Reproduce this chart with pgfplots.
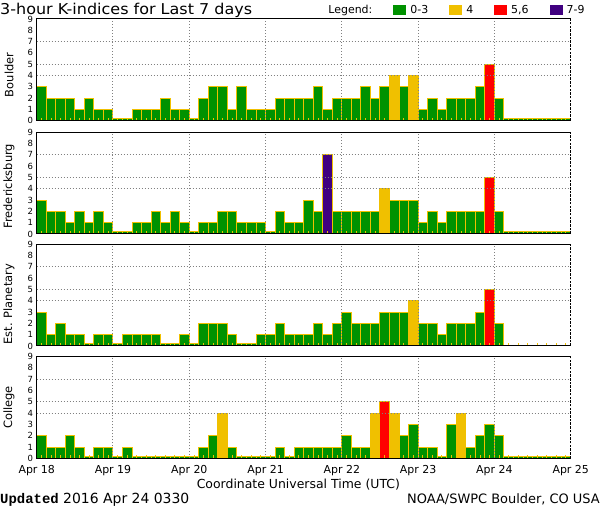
\documentclass[border=0pt]{standalone}
\usepackage{pgfplots}
\pgfplotsset{compat=1.18}
\usepackage{pgfplotstable}
\usepackage{fontspec}
\setmainfont{DejaVu Sans}
\newfontfamily\titlefont[FakeStretch=1.07]{DejaVu Sans}
\newfontfamily\stampfont{Liberation Mono}

\definecolor{kgreen}{RGB}{0,146,0}
\definecolor{korange}{RGB}{240,192,0}
\definecolor{kred}{RGB}{255,0,0}
\definecolor{kpurple}{RGB}{64,0,128}
\definecolor{kgrid}{RGB}{128,128,128}

% 3-hour K values, 8 per day, Apr 18 .. Apr 24
\pgfplotstableread[row sep=\\]{
k\\
3\\2\\2\\2\\1\\2\\1\\1\\
0\\0\\1\\1\\1\\2\\1\\1\\
0\\2\\3\\3\\1\\3\\1\\1\\
1\\2\\2\\2\\2\\3\\1\\2\\
2\\2\\3\\2\\3\\4\\3\\4\\
1\\2\\1\\2\\2\\2\\3\\5\\
2\\0\\0\\0\\0\\0\\0\\0\\
}\boulder
\pgfplotstableread[row sep=\\]{
k\\
3\\2\\2\\1\\2\\1\\2\\1\\
0\\0\\1\\1\\2\\1\\2\\1\\
0\\1\\1\\2\\2\\1\\1\\1\\
0\\2\\1\\1\\3\\2\\7\\2\\
2\\2\\2\\2\\4\\3\\3\\3\\
1\\2\\1\\2\\2\\2\\2\\5\\
2\\0\\0\\0\\0\\0\\0\\0\\
}\fredericksburg
\pgfplotstableread[row sep=\\]{
k\\
3\\1\\2\\1\\1\\0\\1\\1\\
0\\1\\1\\1\\1\\0\\0\\1\\
0\\2\\2\\2\\1\\0\\0\\1\\
1\\2\\1\\1\\1\\2\\1\\2\\
3\\2\\2\\2\\3\\3\\3\\4\\
2\\2\\1\\2\\2\\2\\3\\5\\
2\\
}\planetary
\pgfplotstableread[row sep=\\]{
k\\
2\\1\\1\\2\\1\\0\\1\\1\\
0\\1\\0\\0\\0\\0\\0\\0\\
0\\1\\2\\4\\1\\0\\0\\0\\
0\\1\\0\\1\\1\\1\\1\\1\\
2\\1\\1\\4\\5\\4\\2\\3\\
1\\1\\0\\3\\4\\1\\2\\3\\
2\\0\\0\\0\\0\\0\\0\\0\\
}\college

\pgfplotsset{
  kbar/.style={ybar, bar width=1, bar shift=0pt, draw=korange, line width=1bp, forget plot},
  kpanel/.style={
    scale only axis, width=534bp, height=101.7bp,
    xmin=-0.5, xmax=55.5, ymin=0, ymax=9,
    axis on top,
    axis line style={line width=1bp},
    xtick={-0.5,7.5,...,55.5}, xticklabels={},
    minor xtick={0,...,55},
    ytick={0,...,9},
    extra y ticks={4,5,7}, extra y tick labels={},
    extra y tick style={grid=major},
    xmajorgrids,
    major grid style={kgrid, line width=1bp, dash pattern=on 1bp off 2bp},
    major tick length=0pt,
    minor tick length=3bp,
    minor tick style={korange, line width=1bp},
    tick pos=left, tick align=inside,
    /pgf/number format/assume math mode=true,
    yticklabel style={font=\fontsize{8.5}{8.5}\selectfont, inner sep=0pt, xshift=-3.5bp},
    ylabel style={font=\fontsize{11.5}{11.5}\selectfont, anchor=center},
  },
}

\newcommand\kbars[1]{%
  \addplot[kbar, fill=kgreen, restrict y to domain=0:3.5]
    table[x index=0, y index=0, x expr=\coordindex, y expr={max(\thisrow{k},0.18)}] {#1};
  \addplot[kbar, fill=korange, restrict y to domain=3.5:4.5]
    table[x index=0, y index=0, x expr=\coordindex] {#1};
  \addplot[kbar, fill=kred, restrict y to domain=4.5:6.5]
    table[x index=0, y index=0, x expr=\coordindex] {#1};
  \addplot[kbar, fill=kpurple, restrict y to domain=6.5:9.5]
    table[x index=0, y index=0, x expr=\coordindex] {#1};
}

% dashed right-hand frame edge
\newcommand\dashright[1]{%
  \draw[white, line width=1.2bp] (#1.south east) -- (#1.north east);
  \draw[black, line width=1bp, dash pattern=on 2.5bp off 1.2bp] (#1.south east) -- (#1.north east);
}

\begin{document}
\begin{tikzpicture}
\path[use as bounding box] (0bp,0bp) rectangle (600bp,510bp);

\node[anchor=base west, inner sep=0pt, font=\titlefont\fontsize{15}{15}\selectfont]
  at (0bp,495bp) {3-hour K-indices for Last 7 days};

% Boulder
\begin{axis}[kpanel, name=p1, at={(36.7bp,389.3bp)}, anchor=south west,
  ylabel={Boulder},
  ylabel style={at={(axis description cs:-0.0519,0.45)}},
  legend columns=5,
  legend image code/.code={\path[#1, draw=none] (0bp,-5bp) rectangle (13bp,5bp);},
  legend style={at={(axis description cs:1.03,1.09)}, anchor=east,
    draw=none, fill=none, inner sep=0pt,
    font=\fontsize{11}{11}\selectfont,
    /tikz/every odd column/.append style={column sep=2bp},
    /tikz/every even column/.append style={column sep=19bp}}]
\kbars{\boulder}
\addlegendimage{empty legend}\addlegendentry{Legend:}
\addlegendimage{fill=kgreen}\addlegendentry{0-3}
\addlegendimage{fill=korange}\addlegendentry{4}
\addlegendimage{fill=kred}\addlegendentry{5,6}
\addlegendimage{fill=kpurple}\addlegendentry{7-9}
\end{axis}
\dashright{p1}

% Fredericksburg
\begin{axis}[kpanel, name=p2, at={(36.7bp,276bp)}, anchor=south west,
  ylabel={Fredericksburg},
  ylabel style={at={(axis description cs:-0.0519,0.47)}}]
\kbars{\fredericksburg}
\end{axis}
\dashright{p2}

% Estimated planetary
\begin{axis}[kpanel, name=p3, at={(36.7bp,164bp)}, anchor=south west,
  ylabel={Est. Planetary},
  ylabel style={at={(axis description cs:-0.0519,0.41)}}]
\kbars{\planetary}
\end{axis}
\dashright{p3}

% College
\begin{axis}[kpanel, name=p4, at={(36.7bp,51.7bp)}, anchor=south west,
  ylabel={College},
  ylabel style={at={(axis description cs:-0.0519,0.5)}},
  xticklabels={Apr 18,Apr 19,Apr 20,Apr 21,Apr 22,Apr 23,Apr 24,Apr 25},
  xticklabel style={font=\fontsize{11}{11}\selectfont, anchor=base, yshift=-14.7bp},
  xlabel={Coordinate Universal Time (UTC)},
  xlabel style={font=\fontsize{12.5}{12.5}\selectfont, at={(axis description cs:0.49,-0.30)}, anchor=base}]
\kbars{\college}
\end{axis}
\dashright{p4}

\node[anchor=base west, inner sep=0pt, font=\fontsize{14}{14}\selectfont]
  at (0bp,7bp) {{\stampfont\bfseries Updated} 2016 Apr 24 0330};
\node[anchor=base east, inner sep=0pt, font=\fontsize{13}{13}\selectfont]
  at (600bp,7bp) {NOAA/SWPC Boulder, CO USA};
\end{tikzpicture}
\end{document}
